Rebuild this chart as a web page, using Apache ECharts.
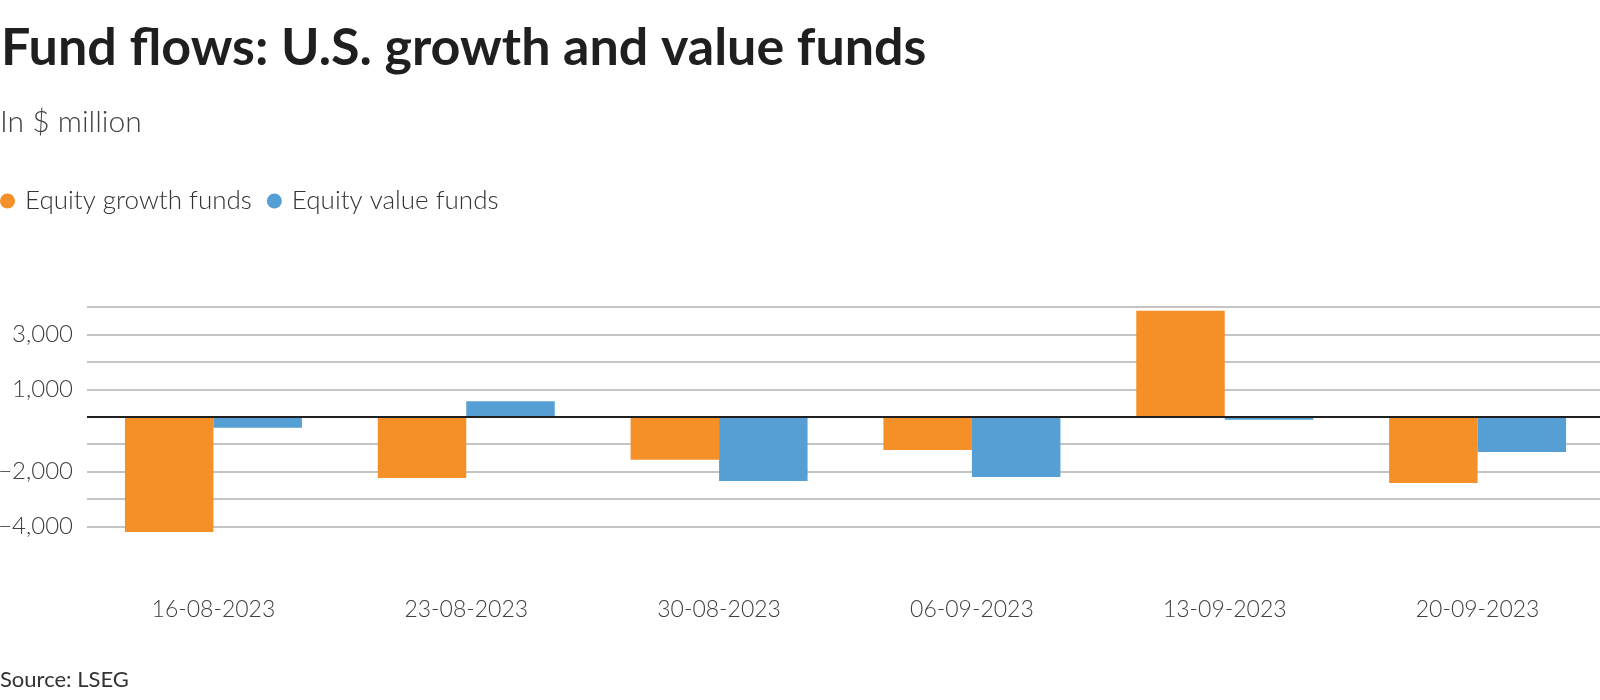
<!DOCTYPE html>
<html>
<head>
<meta charset="utf-8">
<script src="https://cdn.jsdelivr.net/npm/echarts@6/dist/echarts.min.js"></script>
<style>
html,body{margin:0;padding:0;background:#fff;}
#chart{width:1600px;height:700px;}
</style>
</head>
<body>
<div id="chart"></div>
<script>
const categories = ['16-08-2023','23-08-2023','30-08-2023','06-09-2023','13-09-2023','20-09-2023'];
const growthFunds = [-4200, -2230, -1570, -1210, 3860, -2410];
const valueFunds = [-400, 570, -2340, -2190, -110, -1280];
const yTickLabels = [3000, 1000, -2000, -4000];
const seriesNames = ['Equity growth funds', 'Equity value funds'];

const FONT = 'Lato, "Noto Sans", sans-serif';
const chart = echarts.init(document.getElementById('chart'));
chart.setOption({
  backgroundColor: '#fff',
  animation: false,
  title: [
    {text: 'Fund flows: U.S. growth and value funds', left: 1, top: 22, padding: 0,
     textStyle: {fontFamily: FONT, fontWeight: 'bold', fontSize: 52, color: '#1f1f1f'}},
    {text: 'In $ million', left: 0, top: 107, padding: 0,
     textStyle: {fontFamily: FONT, fontWeight: 300, fontSize: 30, color: '#404040'}},
    {text: 'Source: LSEG', left: 0, top: 669, padding: 0,
     textStyle: {fontFamily: FONT, fontWeight: 'normal', fontSize: 22, color: '#333'}}
  ],
  legend: {
    left: 0, top: 188, padding: 0, itemGap: 15, itemWidth: 15, itemHeight: 15, icon: 'circle',
    data: seriesNames,
    textStyle: {fontFamily: FONT, fontWeight: 300, fontSize: 26, color: '#333', padding: [0,0,0,5]}
  },
  grid: {left: 87, right: -4, top: 307, bottom: 146, containLabel: false, outerBoundsMode: 'none'},
  xAxis: {
    type: 'category', data: categories,
    axisLine: {show: false, onZero: false}, axisTick: {show: false},
    axisLabel: {fontFamily: FONT, fontWeight: 300, fontSize: 23, color: '#404040', margin: 44}
  },
  yAxis: {
    type: 'value', min: -5000, max: 4000, interval: 1000,
    axisLine: {show: false}, axisTick: {show: false},
    splitLine: {show: true, showMinLine: false, lineStyle: {color: '#c4c4c4', width: 2}},
    axisLabel: {
      fontFamily: FONT, fontWeight: 300, fontSize: 24, color: '#404040', margin: 14,
      formatter: v => yTickLabels.includes(v) ? (v < 0 ? '\u2212' : '') + Math.abs(v).toLocaleString('en-US') : ''
    }
  },
  series: [
    {name: seriesNames[0], type: 'bar', data: growthFunds, barGap: '0%', barCategoryGap: '30%',
     itemStyle: {color: '#F58F27'},
     markLine: {silent: true, symbol: 'none', label: {show: false},
       lineStyle: {color: '#1f1f1f', width: 2, type: 'solid'}, data: [{yAxis: 0}]}},
    {name: seriesNames[1], type: 'bar', data: valueFunds, barGap: '0%', barCategoryGap: '30%',
     itemStyle: {color: '#569FD4'}}
  ]
});
</script>
</body>
</html>
